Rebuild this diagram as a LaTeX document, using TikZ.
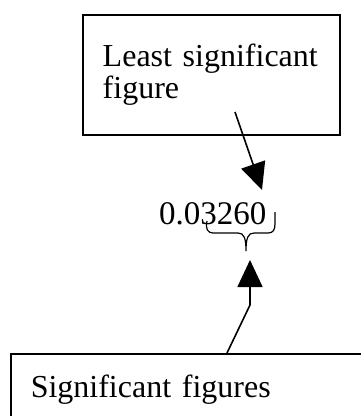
\documentclass[tikz,border=0pt]{standalone}
\usepackage{fontspec}
\setmainfont{Liberation Serif}
\usetikzlibrary{arrows.meta, calc}

\begin{document}
\begin{tikzpicture}[x=1pt, y=-1pt,
    labelbox/.style={rectangle, draw=black, line width=1.5pt, align=left, anchor=north west, inner xsep=20pt, inner ysep=0pt, font=\fontsize{32}{32}\selectfont},
    value/.style={inner sep=0pt, font=\fontsize{33}{33}\selectfont},
    brace/.style={line width=1.2pt},
    arrow/.style={line width=1.6pt, -{Triangle[length=27pt, width=25pt]}}
    ]
    \useasboundingbox (0,0) rectangle (361,416);

    % Boxes
    \node (least) [labelbox, text width=217pt, minimum height=120pt] at (82,14) {Least significant\\figure};
    \node (sig) [labelbox, text width=400pt, minimum height=72pt] at (10,353) {Significant figures};

    % The number
    \node (num) [value, anchor=base west] at (159,224) {0.03260};

    % Brace under the significant digits
    \draw [brace] (207,221) .. controls (205,229) and (208,233) .. (213,233) -- (238,233)
        .. controls (244,233) and (246,238) .. (246,251)
        .. controls (246,238) and (248,233) .. (254,233) -- (268,233)
        .. controls (273,233) and (275,230) .. (275,224) -- (275,212);

    % Arrows
    \coordinate (lstart) at (235,112);
    \coordinate (ltip) at (262,190);
    \coordinate (sstart) at ($(sig.north west)+(217,0)$);
    \coordinate (sbend) at (250,305);
    \coordinate (stip) at (250,260);
    \draw [arrow] (lstart) -- (ltip);
    \draw [arrow] (sstart) -- (sbend) -- (stip);

\end{tikzpicture}
\end{document}
